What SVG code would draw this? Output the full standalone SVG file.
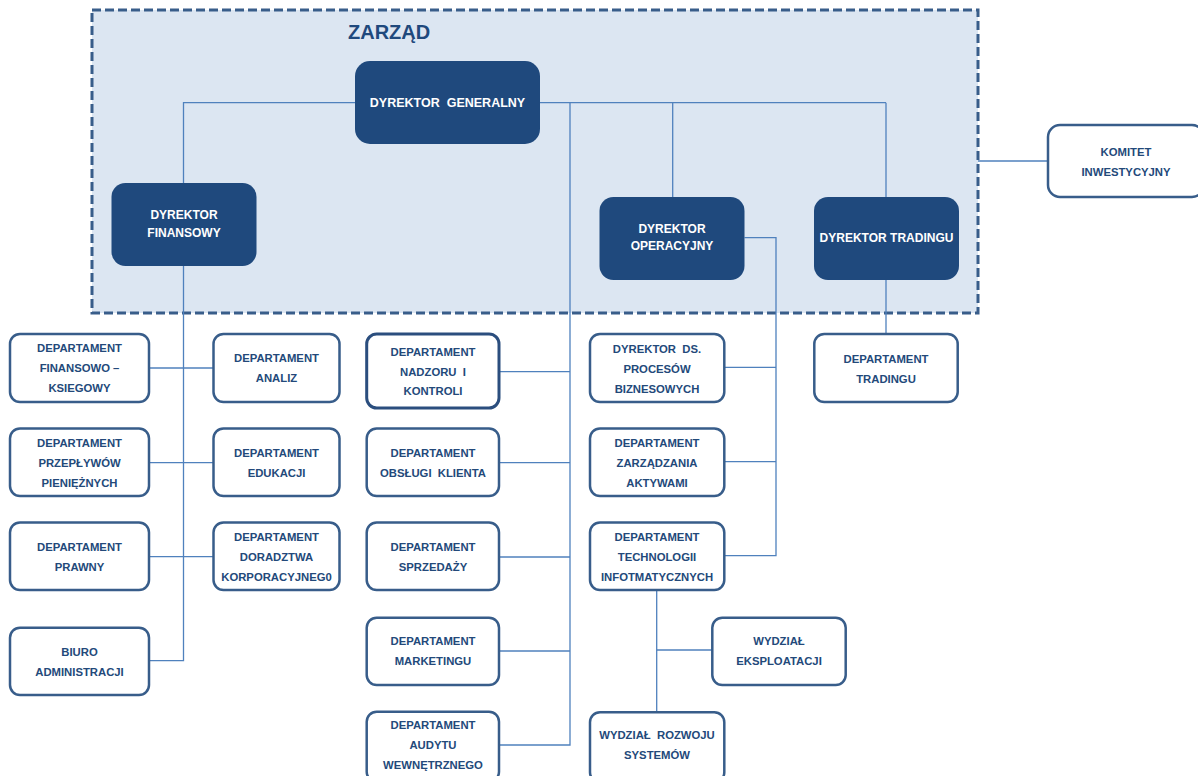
<svg xmlns="http://www.w3.org/2000/svg" width="1198" height="776" viewBox="0 0 1198 776">
<style>
.dir{fill:#1F497D;}
.dt{fill:#FFFFFF;font-family:"Liberation Sans",Arial,sans-serif;font-weight:bold;font-size:12px;text-anchor:middle;}
.box{fill:#FFFFFF;stroke:#385D8A;stroke-width:2.5;}
.t{fill:#23497A;font-family:"Liberation Sans",Arial,sans-serif;font-weight:bold;font-size:11.3px;text-anchor:middle;}
.c{fill:none;stroke:#4F81BD;stroke-width:1.3;}
</style>
<g id="zarzad">
<rect x="92" y="10" width="886" height="303" fill="#DCE6F2" stroke="#385D8A" stroke-width="3" stroke-dasharray="9 4"/>
<text x="348" y="39" fill="#1F497D" font-family="Liberation Sans, Arial, sans-serif" font-weight="bold" font-size="20">ZARZĄD</text>
</g>
<g id="connectors">
<polyline class="c" points="355,102.7 183.5,102.7 183.5,183"/>
<line class="c" x1="540" y1="102.7" x2="886" y2="102.7"/>
<polyline class="c" points="570,102.7 570,745 499,745"/>
<line class="c" x1="672.7" y1="102.7" x2="672.7" y2="197"/>
<line class="c" x1="886" y1="102.7" x2="886" y2="197"/>
<polyline class="c" points="183.5,266 183.5,660.7 149,660.7"/>
<line class="c" x1="149" y1="368" x2="213.5" y2="368"/>
<line class="c" x1="149" y1="462.7" x2="213.5" y2="462.7"/>
<line class="c" x1="149" y1="556.7" x2="213.5" y2="556.7"/>
<line class="c" x1="499" y1="371.7" x2="570" y2="371.7"/>
<line class="c" x1="499" y1="462.7" x2="570" y2="462.7"/>
<line class="c" x1="499" y1="557" x2="570" y2="557"/>
<line class="c" x1="499" y1="651" x2="570" y2="651"/>
<polyline class="c" points="744.5,237.7 776,237.7 776,555.7 724.3,555.7"/>
<line class="c" x1="724.3" y1="367.3" x2="776" y2="367.3"/>
<line class="c" x1="724.3" y1="461.7" x2="776" y2="461.7"/>
<line class="c" x1="886" y1="280" x2="886" y2="334"/>
<line class="c" x1="656.7" y1="590" x2="656.7" y2="712.3"/>
<line class="c" x1="656.7" y1="650" x2="712.3" y2="650"/>
<line class="c" x1="978" y1="161" x2="1048" y2="161"/>
</g>
<g id="dyrektor-generalny">
<rect class="dir" x="355" y="61" width="185" height="83" rx="15"/>
<text class="dt" x="447.5" y="107" font-size="12.5" xml:space="preserve" style="font-size:12.5px">DYREKTOR  GENERALNY</text>
</g>
<g id="dyrektor-finansowy">
<rect class="dir" x="111.5" y="183" width="145" height="83" rx="14"/>
<text class="dt" x="184" y="219.3">DYREKTOR</text>
<text class="dt" x="184" y="237">FINANSOWY</text>
</g>
<g id="dyrektor-operacyjny">
<rect class="dir" x="599.5" y="197" width="145" height="83" rx="14"/>
<text class="dt" x="672" y="233">DYREKTOR</text>
<text class="dt" x="672" y="250.3">OPERACYJNY</text>
</g>
<g id="dyrektor-tradingu">
<rect class="dir" x="814" y="197" width="145" height="83" rx="14"/>
<text class="dt" x="886.5" y="242">DYREKTOR TRADINGU</text>
</g>
<g id="komitet">
<rect class="box" x="1048" y="125" width="156" height="72" rx="12"/>
<text class="t" x="1126" y="156">KOMITET</text>
<text class="t" x="1126" y="176">INWESTYCYJNY</text>
</g>
<g id="dep-fin-ksieg">
<rect class="box" x="10" y="334" width="139" height="68" rx="10"/>
<text class="t" x="79.5" y="352">DEPARTAMENT</text>
<text class="t" x="79.5" y="372">FINANSOWO –</text>
<text class="t" x="79.5" y="392">KSIEGOWY</text>
</g>
<g id="dep-analiz">
<rect class="box" x="213.5" y="334" width="126" height="68" rx="10"/>
<text class="t" x="276.5" y="362">DEPARTAMENT</text>
<text class="t" x="276.5" y="382">ANALIZ</text>
</g>
<g id="dep-nadzoru">
<rect class="box" x="366.7" y="334" width="132.3" height="74" rx="10" style="stroke:#2B4E7E;stroke-width:3"/>
<text class="t" x="433" y="355.7">DEPARTAMENT</text>
<text class="t" x="433" y="375.7" xml:space="preserve">NADZORU  I</text>
<text class="t" x="433" y="395">KONTROLI</text>
</g>
<g id="dep-przeplywow">
<rect class="box" x="10" y="428.5" width="139" height="67.5" rx="10"/>
<text class="t" x="79.5" y="446.7">DEPARTAMENT</text>
<text class="t" x="79.5" y="466.7">PRZEPŁYWÓW</text>
<text class="t" x="79.5" y="486.7">PIENIĘŻNYCH</text>
</g>
<g id="dep-edukacji">
<rect class="box" x="213.5" y="428.5" width="126" height="67.5" rx="10"/>
<text class="t" x="276.5" y="456.7">DEPARTAMENT</text>
<text class="t" x="276.5" y="476.7">EDUKACJI</text>
</g>
<g id="dep-obslugi">
<rect class="box" x="366.7" y="428.5" width="132.3" height="67.5" rx="10"/>
<text class="t" x="433" y="456.7">DEPARTAMENT</text>
<text class="t" x="433" y="476.7" xml:space="preserve">OBSŁUGI  KLIENTA</text>
</g>
<g id="dep-prawny">
<rect class="box" x="10" y="522.5" width="139" height="67.5" rx="10"/>
<text class="t" x="79.5" y="551">DEPARTAMENT</text>
<text class="t" x="79.5" y="571">PRAWNY</text>
</g>
<g id="dep-doradztwa">
<rect class="box" x="213.5" y="522.5" width="126" height="67.5" rx="10"/>
<text class="t" x="276.5" y="541">DEPARTAMENT</text>
<text class="t" x="276.5" y="561">DORADZTWA</text>
<text class="t" x="276.5" y="581">KORPORACYJNEG0</text>
</g>
<g id="dep-sprzedazy">
<rect class="box" x="366.7" y="522.5" width="132.3" height="67.5" rx="10"/>
<text class="t" x="433" y="551">DEPARTAMENT</text>
<text class="t" x="433" y="571">SPRZEDAŻY</text>
</g>
<g id="biuro-administracji">
<rect class="box" x="10" y="627.7" width="139" height="67.3" rx="10"/>
<text class="t" x="79.5" y="656">BIURO</text>
<text class="t" x="79.5" y="676">ADMINISTRACJI</text>
</g>
<g id="dep-marketingu">
<rect class="box" x="366.7" y="617.7" width="132.3" height="67.3" rx="10"/>
<text class="t" x="433" y="645.3">DEPARTAMENT</text>
<text class="t" x="433" y="665.3">MARKETINGU</text>
</g>
<g id="dep-audytu">
<rect class="box" x="366.7" y="711.7" width="132.3" height="70" rx="10"/>
<text class="t" x="433" y="729.3">DEPARTAMENT</text>
<text class="t" x="433" y="749.3">AUDYTU</text>
<text class="t" x="433" y="768.6">WEWNĘTRZNEGO</text>
</g>
<g id="dyr-procesow">
<rect class="box" x="590" y="334" width="134.3" height="68" rx="10"/>
<text class="t" x="657" y="352.5" xml:space="preserve">DYREKTOR  DS.</text>
<text class="t" x="657" y="372.5">PROCESÓW</text>
<text class="t" x="657" y="392.5">BIZNESOWYCH</text>
</g>
<g id="dep-zarzadzania">
<rect class="box" x="590" y="428.5" width="134.3" height="67.5" rx="10"/>
<text class="t" x="657" y="447">DEPARTAMENT</text>
<text class="t" x="657" y="467">ZARZĄDZANIA</text>
<text class="t" x="657" y="487">AKTYWAMI</text>
</g>
<g id="dep-technologii">
<rect class="box" x="590" y="522.5" width="134.3" height="67.5" rx="10"/>
<text class="t" x="657" y="541">DEPARTAMENT</text>
<text class="t" x="657" y="561">TECHNOLOGII</text>
<text class="t" x="657" y="581">INFOTMATYCZNYCH</text>
</g>
<g id="dep-tradingu">
<rect class="box" x="814.3" y="334" width="143.4" height="68" rx="10"/>
<text class="t" x="886" y="362.5">DEPARTAMENT</text>
<text class="t" x="886" y="382.5">TRADINGU</text>
</g>
<g id="wydzial-eksploatacji">
<rect class="box" x="712.3" y="617.7" width="133.4" height="67.3" rx="10"/>
<text class="t" x="779" y="645.3">WYDZIAŁ</text>
<text class="t" x="779" y="665.3">EKSPLOATACJI</text>
</g>
<g id="wydzial-rozwoju">
<rect class="box" x="590" y="712.3" width="134.3" height="70" rx="10"/>
<text class="t" x="657" y="739.3" xml:space="preserve">WYDZIAŁ  ROZWOJU</text>
<text class="t" x="657" y="759.3">SYSTEMÓW</text>
</g>
</svg>
